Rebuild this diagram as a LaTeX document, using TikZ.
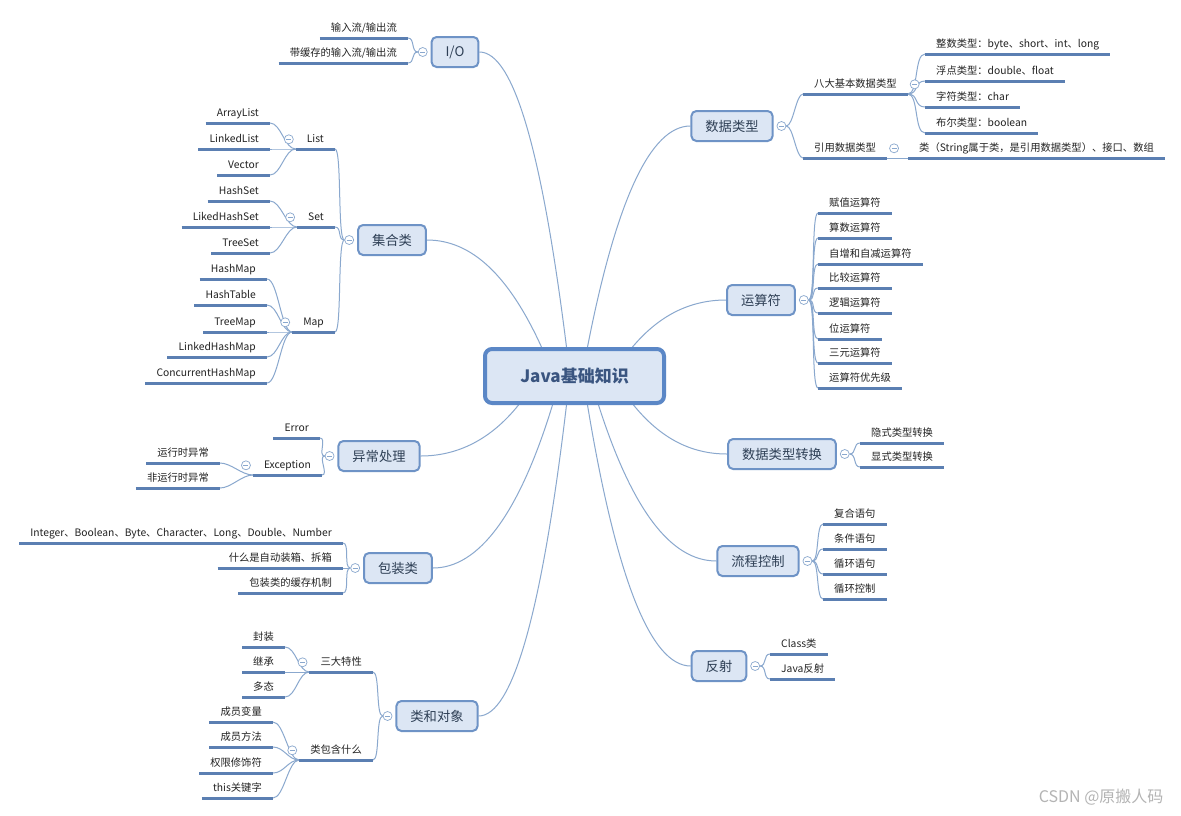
\documentclass[tikz,border=0pt]{standalone}
\usepackage{fontspec}
\setmainfont{Noto Sans CJK SC}
\usepackage{tikz}
\usetikzlibrary{positioning}
\pgfdeclarelayer{background}
\pgfsetlayers{background,main}

\definecolor{rootblue}{HTML}{5B87C6}
\definecolor{topicblue}{HTML}{6E93C6}
\definecolor{nodefill}{HTML}{DCE6F4}
\definecolor{ulineblue}{HTML}{5B7FB2}
\definecolor{linkblue}{HTML}{8AA8CE}
\definecolor{roottext}{HTML}{3A5580}
\definecolor{topictext}{HTML}{2E3F55}
\definecolor{leaftext}{HTML}{222222}
\definecolor{marktext}{HTML}{B4B4B4}

\begin{document}
\begin{tikzpicture}[
    x=1pt, y=-1pt,
    root/.style={rectangle, draw=rootblue, line width=4pt, rounded corners=7pt, fill=nodefill, minimum width=179pt, minimum height=54pt, text=roottext, font=\fontsize{17}{20}\selectfont\bfseries},
    topic/.style={rectangle, draw=topicblue, line width=2pt, rounded corners=5pt, fill=nodefill, minimum height=30pt, inner xsep=14pt, text=topictext, font=\fontsize{13.3}{15}\selectfont},
    uline/.style={draw=ulineblue, line width=3pt},
    leaf/.style={inner xsep=11pt, inner ysep=4.5pt, text height=8.5pt, text depth=1.5pt, text=leaftext, font=\fontsize{10.3}{12}\selectfont,
        append after command={(\tikzlastnode.south west) edge[uline] (\tikzlastnode.south east)}},
    link/.style={draw=linkblue, line width=1pt},
    fold/.style={circle, draw=linkblue, line width=0.7pt, fill=white, inner sep=0pt, minimum size=9pt,
        path picture={\draw[linkblue, line width=0.7pt] ([xshift=-2.5pt]path picture bounding box.center) -- ([xshift=2.5pt]path picture bounding box.center);}},
    rb/.style={link, out=0, in=180, distance=7pt},
    lb/.style={link, out=180, in=0, distance=7pt},
    rbs/.style={link, out=0, in=180, distance=11pt},
    lbs/.style={link, out=180, in=0, distance=11pt}
]
    \useasboundingbox (0,0) rectangle (1181,815);

    \node[root] (root) at (574.5,376) {Java基础知识};

    % main topics, left
    \node[topic] (io) at (455,52) {I/O};
    \node[topic] (coll) at (392,240) {集合类};
    \node[topic] (exc) at (379,456) {异常处理};
    \node[topic] (wrap) at (398,568) {包装类};
    \node[topic] (cls) at (437,716) {类和对象};
    % main topics, right
    \node[topic] (dtype) at (732,126) {数据类型};
    \node[topic] (ops) at (761,300) {运算符};
    \node[topic] (conv) at (782,454) {数据类型转换};
    \node[topic] (flow) at (758,561) {流程控制};
    \node[topic] (refl) at (719,666) {反射};

    \node[fold, left=3pt of io] (iof) {};
    \node[fold, left=3pt of coll] (collf) {};
    \node[fold, left=3pt of exc] (excf) {};
    \node[fold, left=3pt of wrap] (wrapf) {};
    \node[fold, left=3pt of cls] (clsf) {};
    \node[fold, right=3pt of dtype] (dtypef) {};
    \node[fold, right=3pt of ops] (opsf) {};
    \node[fold, right=3pt of conv] (convf) {};
    \node[fold, right=3pt of flow] (flowf) {};
    \node[fold, right=3pt of refl] (reflf) {};

    % I/O
    \node[leaf, anchor=south east] (io1) at (408,38) {输入流/输出流};
    \node[leaf, anchor=south east] (io2) at (408,63) {带缓存的输入流/输出流};

    % collections
    \node[leaf, anchor=south east] (list) at (335,149) {List};
    \node[leaf, anchor=south east] (set) at (335,227) {Set};
    \node[leaf, anchor=south east] (map) at (335,332) {Map};
    \node[fold, left=2pt of list] (listf) {};
    \node[fold, left=2pt of set] (setf) {};
    \node[fold, left=2pt of map] (mapf) {};
    \node[leaf, anchor=south east] (al) at (270,123) {ArrayList};
    \node[leaf, anchor=south east] (ll) at (270,149) {LinkedList};
    \node[leaf, anchor=south east] (vec) at (270,175) {Vector};
    \node[leaf, anchor=south east] (hs) at (270,201) {HashSet};
    \node[leaf, anchor=south east] (lhs) at (270,227) {LikedHashSet};
    \node[leaf, anchor=south east] (ts) at (270,253) {TreeSet};
    \node[leaf, anchor=south east] (hm) at (267,279) {HashMap};
    \node[leaf, anchor=south east] (ht) at (267,305) {HashTable};
    \node[leaf, anchor=south east] (tm) at (267,332) {TreeMap};
    \node[leaf, anchor=south east] (lhm) at (267,357) {LinkedHashMap};
    \node[leaf, anchor=south east] (chm) at (267,383) {ConcurrentHashMap};

    % exceptions
    \node[leaf, anchor=south east] (err) at (320,438) {Error};
    \node[leaf, anchor=south east] (excp) at (322,475) {Exception};
    \node[fold, left=2pt of excp] (excpf) {};
    \node[leaf, anchor=south east] (rte) at (220,463) {运行时异常};
    \node[leaf, anchor=south east] (nrte) at (220,488) {非运行时异常};

    % wrappers
    \node[leaf, anchor=south east] (w1) at (343,543) {Integer、Boolean、Byte、Character、Long、Double、Number};
    \node[leaf, anchor=south east] (w2) at (343,568) {什么是自动装箱、拆箱};
    \node[leaf, anchor=south east] (w3) at (343,593) {包装类的缓存机制};

    % classes and objects
    \node[leaf, anchor=south east] (feat) at (373,672) {三大特性};
    \node[leaf, anchor=south east] (has) at (373,760) {类包含什么};
    \node[fold, left=2pt of feat] (featf) {};
    \node[fold, left=2pt of has] (hasf) {};
    \node[leaf, anchor=south east] (enc) at (285,647) {封装};
    \node[leaf, anchor=south east] (inh) at (285,672) {继承};
    \node[leaf, anchor=south east] (poly) at (285,697) {多态};
    \node[leaf, anchor=south east] (mvar) at (273,722) {成员变量};
    \node[leaf, anchor=south east] (mfun) at (273,747) {成员方法};
    \node[leaf, anchor=south east] (acc) at (273,773) {权限修饰符};
    \node[leaf, anchor=south east] (kw) at (273,798) {this关键字};

    % data types
    \node[leaf, anchor=south west] (prim) at (803,94) {八大基本数据类型};
    \node[leaf, anchor=south west] (refd) at (803,158) {引用数据类型};
    \node[fold, right=2pt of prim] (primf) {};
    \node[fold, right=2pt of refd] (refdf) {};
    \node[leaf, anchor=south west] (pint) at (925,54) {整数类型：byte、short、int、long};
    \node[leaf, anchor=south west] (pflt) at (925,81) {浮点类型：double、float};
    \node[leaf, anchor=south west] (pchr) at (925,107) {字符类型：char};
    \node[leaf, anchor=south west] (pbool) at (925,133) {布尔类型：boolean};
    \node[leaf, anchor=south west] (refc) at (908,158) {类（String属于类，是引用数据类型）、接口、数组};

    % operators
    \foreach \y/\t [count=\i] in {213/赋值运算符, 238/算数运算符, 264/自增和自减运算符, 288/比较运算符, 313/逻辑运算符, 339/位运算符, 363/三元运算符, 388/运算符优先级}
        \node[leaf, anchor=south west] (op\i) at (818,\y) {\t};

    % conversion, flow, reflection
    \node[leaf, anchor=south west] (imp) at (860,443) {隐式类型转换};
    \node[leaf, anchor=south west] (expl) at (860,467) {显式类型转换};
    \node[leaf, anchor=south west] (fl1) at (823,524) {复合语句};
    \node[leaf, anchor=south west] (fl2) at (823,549) {条件语句};
    \node[leaf, anchor=south west] (fl3) at (823,574) {循环语句};
    \node[leaf, anchor=south west] (fl4) at (823,599) {循环控制};
    \node[leaf, anchor=south west] (rf1) at (770,654) {Class类};
    \node[leaf, anchor=south west] (rf2) at (770,679) {Java反射};

    \node[anchor=east, text=marktext, font=\fontsize{16}{18}\selectfont] (mark) at (1167,797) {CSDN @原搬人码};

    \begin{pgfonlayer}{background}
        \fill[white] (0,0) rectangle (1181,815);
        % root to topics
        \draw[link] ([xshift=-33pt]root.north) .. controls +(-32.5,-71.3) and +(44.9,0) .. (coll.east);
        \draw[link] ([xshift=-8pt]root.north) .. controls +(-24.6,-196.7) and +(34,0) .. (io.east);
        \draw[link] ([xshift=13pt]root.north) .. controls +(28.8,-147.3) and +(-39.8,0) .. (dtype.west);
        \draw[link] ([xshift=58pt]root.north) .. controls +(26.3,-31.3) and +(-36.4,0) .. (ops.west);
        \draw[link] ([xshift=-56pt]root.south) .. controls +(-27.2,34) and +(37.5,0) .. (exc.east);
        \draw[link] ([xshift=-22pt]root.south) .. controls +(-33.3,108.7) and +(46,0) .. (wrap.east);
        \draw[link] ([xshift=-8pt]root.south) .. controls +(-24.6,207.3) and +(34,0) .. (cls.east);
        \draw[link] ([xshift=13pt]root.south) .. controls +(28.8,174) and +(-39.8,0) .. (refl.west);
        \draw[link] ([xshift=24pt]root.south) .. controls +(33.3,104) and +(-46,0) .. (flow.west);
        \draw[link] ([xshift=59pt]root.south) .. controls +(26.6,32.7) and +(-36.7,0) .. (conv.west);

        % left branches
        \foreach \c in {io1,io2} \draw[lb] (iof.west) to (\c.south east);
        \foreach \c in {list,set,map} \draw[lb] (collf.west) to (\c.south east);
        \foreach \c in {al,ll,vec} \draw[lbs] (list.south west) to (\c.south east);
        \foreach \c in {hs,lhs,ts} \draw[lbs] (set.south west) to (\c.south east);
        \foreach \c in {hm,ht,tm,lhm,chm} \draw[lbs] (map.south west) to (\c.south east);
        \foreach \c in {err,excp} \draw[lb] (excf.west) to (\c.south east);
        \foreach \c in {rte,nrte} \draw[lbs] (excp.south west) to (\c.south east);
        \foreach \c in {w1,w2,w3} \draw[lb] (wrapf.west) to (\c.south east);
        \foreach \c in {feat,has} \draw[lb] (clsf.west) to (\c.south east);
        \foreach \c in {enc,inh,poly} \draw[lbs] (feat.south west) to (\c.south east);
        \foreach \c in {mvar,mfun,acc,kw} \draw[lbs] (has.south west) to (\c.south east);

        % right branches
        \foreach \c in {prim,refd} \draw[rb] (dtypef.east) to (\c.south west);
        \foreach \c in {pint,pflt,pchr,pbool} \draw[rbs] (prim.south east) to (\c.south west);
        \draw[link] (refd.south east) -- (refc.south west);
        \foreach \i in {1,...,8} \draw[rb] (opsf.east) to (op\i.south west);
        \foreach \c in {imp,expl} \draw[rb] (convf.east) to (\c.south west);
        \foreach \c in {fl1,fl2,fl3,fl4} \draw[rb] (flowf.east) to (\c.south west);
        \foreach \c in {rf1,rf2} \draw[rb] (reflf.east) to (\c.south west);
    \end{pgfonlayer}
\end{tikzpicture}
\end{document}
